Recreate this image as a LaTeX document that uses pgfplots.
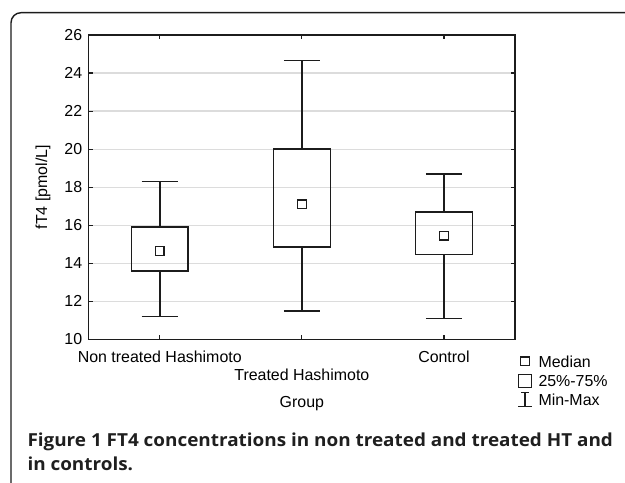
\documentclass[border=0pt]{standalone}
\usepackage{fontspec}
\setmainfont{Liberation Sans}
\newfontfamily\capfont{Open Sans}
\usepackage{pgfplots}
\pgfplotsset{compat=1.18}
\definecolor{axcol}{HTML}{1C1C1C}
\definecolor{gridcol}{HTML}{DCDCDC}
\begin{document}
\begin{tikzpicture}
\useasboundingbox (0bp,0bp) rectangle (625bp,483bp);
\draw[line width=1.4bp, axcol, rounded corners=10bp] (11bp,-10bp) -- (11bp,470.3bp) -- (640bp,470.3bp);
\begin{axis}[
  at={(88.7bp,143.7bp)}, anchor=south west,
  scale only axis, width=426.3bp, height=304.3bp,
  xmin=-0.5, xmax=2.5, ymin=10, ymax=26,
  ytick={10,12,...,26},
  xtick={0,2}, xticklabels={Non treated Hashimoto, Control},
  extra x ticks={1}, extra x tick labels={Treated Hashimoto},
  extra x tick style={xticklabel style={yshift=-18.3bp}},
  tick align=inside, major tick length=4bp,
  every tick/.style={axcol, line width=1.1bp},
  axis line style={axcol, line width=1.5bp},
  ymajorgrids, grid style={gridcol, line width=1.2bp},
  /pgf/number format/assume math mode=true,
  tick label style={font=\fontsize{16}{18}\selectfont, text=black},
  xticklabel style={yshift=-8bp},
  yticklabel style={xshift=-3bp},
  xlabel={Group}, ylabel={fT4 [pmol/L]},
  label style={font=\fontsize{16}{18}\selectfont},
  xlabel style={at={(axis description cs:0.5,0)}, anchor=north, yshift=-54bp},
  ylabel style={at={(axis description cs:-0.1072,0.5)}, anchor=center},
  unbounded coords=jump,
]
% boxes (25%-75%)
\addplot[axcol, line width=1.5bp, line join=miter, mark=none] coordinates {(-0.2,13.6) (0.2,13.6) (0.2,15.9) (-0.2,15.9)} -- cycle;
\addplot[axcol, line width=1.5bp, line join=miter, mark=none] coordinates {(0.8,14.85) (1.2,14.85) (1.2,20.0) (0.8,20.0)} -- cycle;
\addplot[axcol, line width=1.5bp, line join=miter, mark=none] coordinates {(1.8,14.45) (2.2,14.45) (2.2,16.7) (1.8,16.7)} -- cycle;
% whiskers (min-max)
\addplot[axcol, line width=1.5bp, mark=none] coordinates {
  (0,15.9) (0,18.3) (nan,nan) (-0.127,18.3) (0.127,18.3) (nan,nan)
  (0,13.6) (0,11.2) (nan,nan) (-0.127,11.2) (0.127,11.2)};
\addplot[axcol, line width=1.5bp, mark=none] coordinates {
  (1,20.0) (1,24.65) (nan,nan) (0.873,24.65) (1.127,24.65) (nan,nan)
  (1,14.85) (1,11.5) (nan,nan) (0.873,11.5) (1.127,11.5)};
\addplot[axcol, line width=1.5bp, mark=none] coordinates {
  (2,16.7) (2,18.7) (nan,nan) (1.873,18.7) (2.127,18.7) (nan,nan)
  (2,14.45) (2,11.1) (nan,nan) (1.873,11.1) (2.127,11.1)};
% medians
\addplot[only marks, mark=square, mark size=4.3bp,
  mark options={axcol, line width=1.3bp, fill=none}]
  coordinates {(0,14.65) (1,17.1) (2,15.45)};
\end{axis}
% legend
\draw[axcol, line width=1.3bp] (520.2bp,117.5bp) rectangle (529.2bp,125.9bp);
\draw[axcol, line width=1.4bp] (518.3bp,95.3bp) rectangle (531.7bp,108.7bp);
\draw[axcol, line width=1.4bp] (518bp,76.3bp) -- (532bp,76.3bp) (525bp,76.3bp) -- (525bp,90.3bp) (521bp,90.3bp) -- (529bp,90.3bp);
\node[anchor=base west, inner sep=0pt, font=\fontsize{16}{18}\selectfont] at (538.3bp,115.7bp) {Median};
\node[anchor=base west, inner sep=0pt, font=\fontsize{16}{18}\selectfont] at (538.3bp,96.3bp) {25\%-75\%};
\node[anchor=base west, inner sep=0pt, font=\fontsize{16}{18}\selectfont] at (538.3bp,77.3bp) {Min-Max};
% caption
\node[anchor=base west, inner sep=0pt, font=\capfont\bfseries\fontsize{18}{20}\selectfont, text=black!88] at (27.3bp,37bp) {\scalebox{1.054}[1]{Figure 1 FT4 concentrations in non treated and treated HT and}};
\node[anchor=base west, inner sep=0pt, font=\capfont\bfseries\fontsize{18}{20}\selectfont, text=black!88] at (27.3bp,13bp) {\scalebox{1.054}[1]{in controls.}};
\end{tikzpicture}
\end{document}
